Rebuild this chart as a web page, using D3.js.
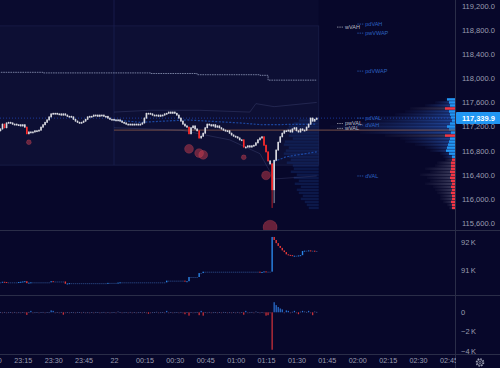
<!DOCTYPE html>
<html>
<head>
<meta charset="utf-8">
<script src="https://cdn.jsdelivr.net/npm/d3@7"></script>
<style>
html, body { margin: 0; padding: 0; background: #07072a; }
svg { display: block; font-family: "Liberation Sans", Arial, sans-serif; }
</style>
</head>
<body>
<div id="chart"></div>
<script>
// 1 minute bars, first bar 23:03 (21st), last bar 01:40 (22nd)
const firstBar = "23:03"

const closes = [
    117130,117160,117240,117180,117260,117270,117260,117240,117240,117230,
    117230,117210,117230,117190,117080,117110,117110,117110,117130,117130,
    117140,117190,117230,117270,117310,117360,117410,117420,117420,117410,
    117410,117390,117410,117390,117370,117370,117360,117320,117290,117270,
    117260,117270,117290,117320,117360,117370,117370,117390,117390,117370,
    117390,117390,117370,117370,117340,117320,117320,117310,117310,117310,
    117290,117270,117260,117240,117240,117240,117230,117240,117240,117230,
    117240,117260,117340,117420,117420,117410,117390,117390,117390,117370,
    117390,117390,117410,117420,117440,117420,117440,117420,117390,117340,
    117290,117240,117210,117190,117080,117180,117210,117160,117130,117010,
    117040,117090,117180,117240,117230,117210,117230,117190,117210,117180,
    117160,117140,117130,117130,117090,117060,117040,117030,117010,116980,
    116980,116860,116860,116880,116860,116880,116890,116930,116980,117010,
    117030,116890,116780,116630,116580,116150,116640,116810,116940,117030,
    117090,117130,117130,117140,117110,117160,117180,117130,117110,117160,
    117140,117140,117190,117240,117340,117290,117320,117339.9
]
// long lower wicks
const wickTimes = ["01:18", "01:19"]
const wickLows = [115850, 115930]

const openInterest = [
    90560,90560,90580,90570,90560,90560,90560,90560,90560,90560,
    90570,90580,90590,90600,90530,90550,90560,90560,90560,90560,
    90560,90560,90560,90560,90560,90560,90600,90590,90590,90590,
    90590,90590,90590,90510,90520,90530,90530,90530,90530,90530,
    90530,90530,90530,90530,90530,90530,90530,90530,90530,90530,
    90530,90530,90530,90530,90540,90540,90540,90540,90540,90550,
    90560,90560,90560,90560,90560,90560,90560,90560,90560,90560,
    90560,90560,90560,90560,90560,90560,90560,90560,90560,90560,
    90560,90560,90560,90620,90620,90620,90620,90620,90620,90620,
    90620,90620,90590,90600,90750,90750,90750,90750,90750,90890,
    90890,90940,90940,90940,90940,90940,90940,90940,90940,90940,
    90940,90940,90940,90940,90940,90940,90940,90940,90940,90940,
    90940,90940,90940,90940,90940,90940,90940,90940,90940,90910,
    90930,90950,90940,90940,90940,92180,92070,91960,91860,91790,
    91700,91640,91560,91540,91530,91500,91510,91510,91520,91530,
    91680,91690,91690,91700,91690,91690,91680,91680
]

const delta = [
    150,30,-20,40,-30,20,30,-20,40,-30,
    20,-40,30,-30,-270,40,150,-30,20,30,
    -20,30,40,-30,30,20,200,150,-40,30,
    -30,40,-250,-60,30,-40,30,20,-30,40,
    30,-20,40,-30,20,-40,30,-20,40,30,
    -30,20,40,-40,30,-20,20,30,-30,100,
    30,-40,20,30,-30,40,-20,30,-40,20,
    30,-20,40,-30,-150,-40,20,30,60,-40,
    20,30,-30,150,-20,30,-40,20,30,-30,
    40,-30,-200,30,-350,30,-40,20,40,-300,
    150,-350,30,-20,40,-30,20,30,-40,30,
    -20,40,30,-30,20,-40,30,-20,40,-30,
    30,-250,150,-30,20,40,-30,100,30,-40,
    30,-50,-350,-300,-80,-3900,1050,750,550,400,
    300,-60,200,150,-40,60,150,-100,-200,80,
    150,100,50,150,-60,-300,100,50
]

// large trade bubbles
const bubbleTimes = ["23:18", "00:37", "00:42", "00:44", "01:04", "01:15", "01:17"]
const bubblePrices = [116940, 116830, 116760, 116730, 116690, 116390, 115530]
const bubbleVols = [6, 20, 20, 20, 6, 20, 50]

// visible range volume profile (right side)
const profPrices = [117650,117600,117550,117500,117450,117400,117350,117300,117250,117200,
    117150,117100,117050,117000,116950,116900,116850,116800,116750,116700,
    116650,116600,116550,116500,116450,116400,116350,116300,116250,116200,
    116150,116100,116050,116000,115950,115900,115850]
const profVol = [40,80,120,180,200,240,320,360,440,500,
    480,380,280,220,200,160,120,100,60,48,
    40,72,80,120,100,140,112,100,120,88,
    80,72,60,60,48,32,24]
const profDelta = [32,24,20,-40,24,20,16,12,20,32,
    24,16,-40,20,24,28,32,36,24,12,
    -12,-16,-16,-16,-20,-16,-20,-16,-12,-16,
    -12,-16,-12,-12,-16,-12,-12]

// session volume profile
const sessPrices = [117300,117250,117200,117150,117100,117050,117000,116950,116900,116850,
    116800,116750,116700,116650,116600,116550,116500,116450,116400,116350,
    116300,116250,116200,116150,116100,116050,116000,115950,115900,115850]
const sessVol = [80,100,120,128,112,120,104,136,140,120,
    132,140,120,112,128,104,100,112,88,100,
    80,96,72,88,80,64,72,56,48,40]

// level lines
const priorVwapTimes = ["23:03","23:25","00:18","00:41","01:12","01:16","01:40"]
const priorVwapPrices = [118100,118090,118080,118060,118050,117970,117970]
const vwapTimes = ["00:00","00:13","00:36","01:02","01:13","01:40"]
const vwapPrices = [117310,117270,117310,117260,117230,117240]
const devTimes = ["01:19","01:25","01:40"]
const devPrices = [116620,116700,116780]
const upperBandTimes = ["00:00","00:18","00:42","01:07","01:10","01:19","01:40"]
const upperBandPrices = [117440,117470,117470,117440,117580,117530,117600]
const lowerBandTimes = ["00:00","00:33","00:57","01:12","01:19","01:40"]
const lowerBandPrices = [117180,117140,116980,116750,116330,116380]
const pocPrice = 117140
const boxPrices = [118870, 116560]

const blueLevelNames = ["pdVAH", "pwVWAP", "pdVWAP", "pdVAL", "dVAH", "dVAL"]
const blueLevelPrices = [118900, 118750, 118120, 117340, 117225, 116380]
const greyLevelNames = ["wVAH", "pwVAL", "wVAL"]
const greyLevelPrices = [118850, 117250, 117170]

const priceTicks = [115600,116000,116400,116800,117200,117600,118000,118400,118800,119200]
const oiTicks = [91000, 92000]
const deltaTicks = [0, -2000, -4000]

function parseT(s) {
    const [h, m] = s.split(":").map(Number)
    return new Date(2025, 6, h >= 12 ? 21 : 22, h, m)
}

class OrderflowChart {

    constructor(parentElement) {
        this.parentElement = parentElement
        this.initvis()
    }

    initvis() {
        let vis = this

        vis.width = 500
        vis.height = 368
        vis.axisX = 455

        vis.svg = d3.select("#" + vis.parentElement).append("svg")
            .attr("width", vis.width)
            .attr("height", vis.height)

        vis.x = d3.scaleTime().domain([parseT("00:00"), parseT("02:45")]).range([114, 448.5])
        vis.y = d3.scaleLinear().domain([115600, 119200]).range([223, 6])
        vis.yOi = d3.scaleLinear().domain([91000, 92000]).range([270, 242])
        vis.yDelta = d3.scaleLinear().domain([-4000, 0]).range([350.7, 312.3])
        vis.profW = d3.scaleLinear().domain([0, 500]).range([0, 125])
        vis.bubbleR = d3.scaleSqrt().domain([0, 50]).range([0, 7])

        let defs = vis.svg.append("defs")
        defs.append("clipPath").attr("id", "mainClip").append("rect")
            .attr("x", 0).attr("y", 0).attr("width", vis.axisX).attr("height", 230)
        let gb = defs.append("linearGradient").attr("id", "gradBuy")
        gb.append("stop").attr("offset", "0%").attr("stop-color", "rgb(45,70,140)").attr("stop-opacity", 0.05)
        gb.append("stop").attr("offset", "100%").attr("stop-color", "rgb(45,105,215)").attr("stop-opacity", 0.65)
        let gs = defs.append("linearGradient").attr("id", "gradSell")
        gs.append("stop").attr("offset", "0%").attr("stop-color", "rgb(85,85,115)").attr("stop-opacity", 0.05)
        gs.append("stop").attr("offset", "100%").attr("stop-color", "rgb(100,100,130)").attr("stop-opacity", 0.6)

        vis.wrangledata()
    }

    wrangledata() {
        let vis = this
        let t0 = parseT(firstBar)

        vis.bars = closes.map((c, i) => {
            let o = i === 0 ? c : closes[i - 1]
            let t = d3.timeMinute.offset(t0, i)
            return {t: t, o: o, c: c, h: Math.max(o, c) + 10, l: Math.min(o, c) - 10}
        })
        wickTimes.forEach((s, k) => {
            let b = vis.bars.find(d => +d.t === +parseT(s))
            if (b) b.l = wickLows[k]
        })

        vis.oiBars = openInterest.map((c, i) => ({
            t: d3.timeMinute.offset(t0, i), o: i === 0 ? c : openInterest[i - 1], c: c
        }))
        vis.deltaBars = delta.map((v, i) => ({t: d3.timeMinute.offset(t0, i), v: v}))

        vis.lastBar = vis.bars[vis.bars.length - 1]
        vis.updatevis()
    }

    lineOf(times, prices, curve) {
        let vis = this
        let pts = times.map((s, i) => [parseT(s), prices[i]])
        return d3.line().x(d => vis.x(d[0])).y(d => vis.y(d[1])).curve(curve || d3.curveLinear)(pts)
    }

    updatevis() {
        let vis = this
        let svg = vis.svg
        let tStart = vis.bars[0].t
        let tEnd = d3.timeMinute.offset(vis.lastBar.t, 1)
        let xs = vis.x(tStart), xe = vis.x(tEnd)

        // backgrounds
        svg.append("rect").attr("width", vis.width).attr("height", vis.height).attr("fill", "#07072a")
        let main = svg.append("g").attr("clip-path", "url(#mainClip)")
        main.append("rect").attr("x", xs).attr("y", 0).attr("width", xe - xs).attr("height", vis.y(boxPrices[1]))
            .attr("fill", "#0a0b2f")
        main.append("rect").attr("x", xs).attr("y", vis.y(boxPrices[0]))
            .attr("width", xe - xs).attr("height", vis.y(boxPrices[1]) - vis.y(boxPrices[0]))
            .attr("fill", "#0d0f34").attr("stroke", "#1a1e48").attr("stroke-width", 0.8)
        main.append("line").attr("x1", vis.x(parseT("00:00"))).attr("x2", vis.x(parseT("00:00")))
            .attr("y1", 0).attr("y2", vis.y(boxPrices[1])).attr("stroke", "#1b2050").attr("stroke-width", 0.8)

        // session profile
        let rowH = Math.abs(vis.y(0) - vis.y(50))
        main.selectAll(".sess").data(sessPrices).enter().append("rect").attr("class", "sess")
            .attr("x", (d, i) => xe - vis.profW(sessVol[i]))
            .attr("y", d => vis.y(d + 25) + 0.3)
            .attr("width", (d, i) => vis.profW(sessVol[i]))
            .attr("height", rowH - 0.6)
            .attr("fill", "rgb(30,80,175)").attr("opacity", 0.24)

        // visible range profile
        main.selectAll(".prof").data(profPrices).enter().append("rect").attr("class", "prof")
            .attr("x", (d, i) => vis.axisX - vis.profW(profVol[i]))
            .attr("y", d => vis.y(d + 25) + 0.3)
            .attr("width", (d, i) => vis.profW(profVol[i]))
            .attr("height", rowH - 0.6)
            .attr("fill", (d, i) => profDelta[i] > 0 ? "url(#gradBuy)" : "url(#gradSell)")
        main.selectAll(".profd").data(profPrices).enter().append("rect").attr("class", "profd")
            .attr("x", (d, i) => vis.axisX - vis.profW(Math.abs(profDelta[i])))
            .attr("y", d => vis.y(d + 25) + 0.3)
            .attr("width", (d, i) => vis.profW(Math.abs(profDelta[i])))
            .attr("height", rowH - 0.6)
            .attr("fill", (d, i) => profDelta[i] > 0 ? "#2196f3" : "#f23645")

        // lines
        main.append("line").attr("x1", vis.x(parseT("00:00"))).attr("x2", vis.axisX)
            .attr("y1", vis.y(pocPrice)).attr("y2", vis.y(pocPrice))
            .attr("stroke", "#6e4a44").attr("stroke-width", 1.3).attr("opacity", 0.85)
        main.append("path").attr("d", vis.lineOf(upperBandTimes, upperBandPrices))
            .attr("fill", "none").attr("stroke", "rgba(120,130,190,0.25)").attr("stroke-width", 0.8)
        main.append("path").attr("d", vis.lineOf(lowerBandTimes, lowerBandPrices))
            .attr("fill", "none").attr("stroke", "rgba(120,130,190,0.25)").attr("stroke-width", 0.8)
        main.append("path").attr("d", vis.lineOf(priorVwapTimes, priorVwapPrices, d3.curveStepAfter))
            .attr("fill", "none").attr("stroke", "#8d97b8").attr("stroke-width", 1)
            .attr("stroke-dasharray", "1.6,0.8").attr("opacity", 0.8)
        main.append("path").attr("d", vis.lineOf(vwapTimes, vwapPrices))
            .attr("fill", "none").attr("stroke", "#2159c4").attr("stroke-width", 1.2)
            .attr("stroke-dasharray", "2,1.5").attr("opacity", 0.75)
        main.append("path").attr("d", vis.lineOf(devTimes, devPrices))
            .attr("fill", "none").attr("stroke", "#2159c4").attr("stroke-width", 1.2)
            .attr("stroke-dasharray", "2,1.5").attr("opacity", 0.75)
        main.append("line").attr("x1", 0).attr("x2", vis.axisX)
            .attr("y1", vis.y(vis.lastBar.c)).attr("y2", vis.y(vis.lastBar.c))
            .attr("stroke", "#2962ff").attr("stroke-width", 1).attr("stroke-dasharray", "1,2").attr("opacity", 0.5)

        // bubbles
        main.selectAll(".bubble").data(bubbleTimes).enter().append("circle").attr("class", "bubble")
            .attr("cx", d => vis.x(parseT(d)))
            .attr("cy", (d, i) => vis.y(bubblePrices[i]))
            .attr("r", (d, i) => vis.bubbleR(bubbleVols[i]))
            .attr("fill", "rgba(200,60,75,0.5)").attr("stroke", "rgba(230,90,100,0.35)").attr("stroke-width", 0.6)

        // candles
        let isRed = d => d.o - d.c > 50
        let upCol = "#d8d9e0", downCol = "#ff2b2b"
        main.selectAll(".wick").data(vis.bars).enter().append("line").attr("class", "wick")
            .attr("x1", d => vis.x(d.t)).attr("x2", d => vis.x(d.t))
            .attr("y1", d => vis.y(d.h)).attr("y2", d => vis.y(d.l))
            .attr("stroke", d => isRed(d) ? downCol : upCol).attr("stroke-width", 0.7)
        main.selectAll(".body").data(vis.bars).enter().append("rect").attr("class", "body")
            .attr("x", d => vis.x(d.t) - 0.8).attr("width", 1.6)
            .attr("y", d => vis.y(Math.max(d.o, d.c)) - 0.3)
            .attr("height", d => Math.max(1.6, Math.abs(vis.y(d.o) - vis.y(d.c)) + 0.6))
            .attr("fill", d => isRed(d) ? downCol : upCol)

        // level labels
        let addLabels = (names, prices, time, dashColor, textColor) => {
            let lx = vis.x(parseT(time))
            names.forEach((n, i) => {
                let ly = vis.y(prices[i])
                main.append("line").attr("x1", lx).attr("x2", lx + 6).attr("y1", ly).attr("y2", ly)
                    .attr("stroke", dashColor).attr("stroke-width", 0.8).attr("stroke-dasharray", "1.5,0.8")
                main.append("text").attr("x", lx + 8).attr("y", ly).attr("dy", "0.35em")
                    .attr("font-size", 5.5).attr("fill", textColor).text(n)
            })
        }
        addLabels(blueLevelNames, blueLevelPrices, "02:00", "#2a5bb5", "#2c62c0")
        addLabels(greyLevelNames, greyLevelPrices, "01:50", "#9fa2b0", "#b9bbc6")

        // open interest pane
        let oiColor = d => d.c > d.o ? "#2a86e8" : (d.c < d.o ? "#e83a3a" : "#253f78")
        svg.append("g").selectAll("rect").data(vis.oiBars).enter().append("rect")
            .attr("x", d => vis.x(d.t) - 0.7).attr("width", 1.4)
            .attr("y", d => vis.yOi(Math.max(d.o, d.c)))
            .attr("height", d => Math.max(1, Math.abs(vis.yOi(d.o) - vis.yOi(d.c))))
            .attr("fill", oiColor)

        // delta pane
        let dColor = v => v >= 150 ? "#2b73d6" : (v > 0 ? "#3c4a7c" : (v <= -150 ? "#d8333a" : "#5a3552"))
        svg.append("g").selectAll("rect").data(vis.deltaBars).enter().append("rect")
            .attr("x", d => vis.x(d.t) - 0.6).attr("width", 1.2)
            .attr("y", d => vis.yDelta(Math.max(0, d.v)))
            .attr("height", d => Math.max(1, Math.abs(vis.yDelta(d.v) - vis.yDelta(0))))
            .attr("fill", d => dColor(d.v))

        // separators
        let sepColor = "#2a2d48"
        ;[230.5, 295.5, 354.5].forEach(yy => {
            svg.append("line").attr("x1", 0).attr("x2", vis.width).attr("y1", yy).attr("y2", yy)
                .attr("stroke", sepColor).attr("stroke-width", 1)
        })
        svg.append("line").attr("x1", vis.axisX + 0.5).attr("x2", vis.axisX + 0.5)
            .attr("y1", 0).attr("y2", vis.height).attr("stroke", sepColor).attr("stroke-width", 1)

        // axes
        let styleAxis = g => {
            g.select(".domain").remove()
            g.selectAll("text").attr("fill", "#9a9db0").attr("font-family", "\"Liberation Sans\", Arial, sans-serif")
        }
        svg.append("g").attr("transform", "translate(" + vis.axisX + ",0)")
            .call(d3.axisRight(vis.y).tickValues(priceTicks).tickFormat(d3.format(",.1f")).tickSize(0).tickPadding(7))
            .attr("font-size", 7.5).call(styleAxis)

        let kFmt = d => d === 0 ? "0" : d3.format("d")(d / 1000) + "\u2009K"
        svg.append("g").attr("transform", "translate(" + vis.axisX + ",0)")
            .call(d3.axisRight(vis.yOi).tickValues(oiTicks).tickFormat(kFmt).tickSize(0).tickPadding(6))
            .attr("font-size", 7.5).call(styleAxis)
        svg.append("g").attr("transform", "translate(" + vis.axisX + ",0)")
            .call(d3.axisRight(vis.yDelta).tickValues(deltaTicks).tickFormat(kFmt).tickSize(0).tickPadding(6))
            .attr("font-size", 7.5).call(styleAxis)

        let timeFmt = d => (d.getHours() === 0 && d.getMinutes() === 0) ? d3.timeFormat("%-d")(d) : d3.timeFormat("%H:%M")(d)
        svg.append("g").attr("transform", "translate(0,354)")
            .call(d3.axisBottom(vis.x).ticks(d3.timeMinute.every(15)).tickFormat(timeFmt).tickSize(0).tickPadding(4))
            .attr("font-size", 7.2).call(styleAxis)
        // time labels stop under the price axis
        svg.append("rect").attr("x", vis.axisX + 1).attr("y", 355).attr("width", vis.width - vis.axisX).attr("height", 13)
            .attr("fill", "#07072a")

        // ticks before midnight, the first one runs off the left edge
        let leftTicks = d3.timeMinute.every(15).range(parseT("23:00"), parseT("00:00"))
        svg.append("g").attr("transform", "translate(0,354)")
            .call(d3.axisBottom(vis.x).tickValues(leftTicks).tickFormat(timeFmt).tickSize(0).tickPadding(4))
            .attr("font-size", 7.2).call(styleAxis)

        // current price label
        let cy = vis.y(vis.lastBar.c)
        svg.append("rect").attr("x", vis.axisX + 1).attr("y", cy - 6).attr("width", vis.width - vis.axisX)
            .attr("height", 12).attr("fill", "#2196f3").attr("rx", 1)
        svg.append("text").attr("x", vis.axisX + 7).attr("y", cy).attr("dy", "0.35em")
            .attr("font-size", 7.5).attr("font-weight", "bold").attr("fill", "#ffffff")
            .text(d3.format(",.1f")(vis.lastBar.c))

        // settings icon
        let gear = svg.append("g").attr("transform", "translate(480,362.5)")
        gear.append("circle").attr("r", 3.6).attr("fill", "none").attr("stroke", "#9a9db0")
            .attr("stroke-width", 1.4).attr("stroke-dasharray", "1.6,1.2")
        gear.append("circle").attr("r", 2.8).attr("fill", "none").attr("stroke", "#9a9db0").attr("stroke-width", 0.7)
        gear.append("circle").attr("r", 1.1).attr("fill", "none").attr("stroke", "#9a9db0").attr("stroke-width", 0.7)
    }
}

new OrderflowChart("chart")
</script>
</body>
</html>
